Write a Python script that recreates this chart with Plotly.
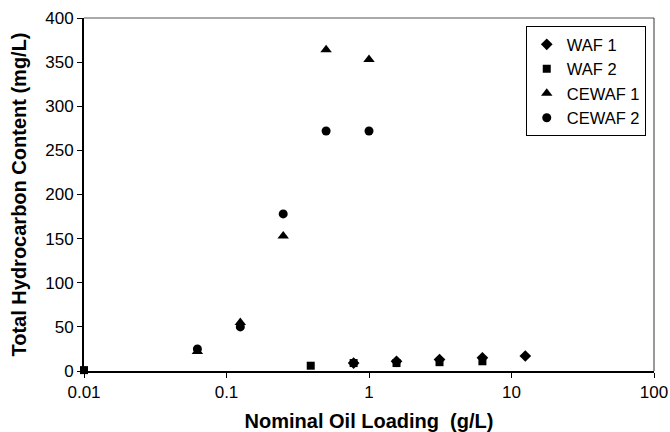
import plotly.graph_objects as go

waf1_x = [0.78, 1.56, 3.125, 6.25, 12.5]
waf1_y = [9, 11, 13, 15, 17]
waf2_x = [0.01, 0.39, 0.78, 1.56, 3.125, 6.25]
waf2_y = [1, 6, 9, 9, 10, 11]
cewaf1_x = [0.0625, 0.125, 0.25, 0.5, 1.0]
cewaf1_y = [22, 55, 153, 364, 353]
cewaf2_x = [0.0625, 0.125, 0.25, 0.5, 1.0]
cewaf2_y = [25, 50, 178, 272, 272]

x_ticks = [0.01, 0.1, 1, 10, 100]
x_tick_labels = ["0.01", "0.1", "1", "10", "100"]
y_ticks = [0, 50, 100, 150, 200, 250, 300, 350, 400]

font = "Liberation Sans, Arial, sans-serif"

fig = go.Figure()
series = [
    ("WAF 1", waf1_x, waf1_y, "diamond", 9),
    ("WAF 2", waf2_x, waf2_y, "square", 8),
    ("CEWAF 1", cewaf1_x, cewaf1_y, "triangle-up", 10),
    ("CEWAF 2", cewaf2_x, cewaf2_y, "circle", 9),
]
for name, xs, ys, sym, sz in series:
    fig.add_trace(go.Scatter(
        x=xs, y=ys, mode="markers", name=name, cliponaxis=False,
        marker=dict(symbol=sym, size=sz, color="black", line=dict(width=0)),
    ))

fig.update_layout(
    width=670, height=432,
    margin=dict(l=84, r=16, t=18, b=61),
    paper_bgcolor="white", plot_bgcolor="white",
    font=dict(family=font, color="black", size=17),
    showlegend=True,
    legend=dict(
        x=0.775, y=0.977, xanchor="left", yanchor="top",
        bgcolor="white", bordercolor="black", borderwidth=1,
        font=dict(size=16.5, family=font),
        itemwidth=30, tracegroupgap=0,
    ),
    xaxis=dict(
        type="log", range=[-2, 2], automargin=False,
        tickvals=x_ticks, ticktext=x_tick_labels,
        ticks="outside", ticklen=5, tickwidth=1, tickcolor="black",
        showline=True, linecolor="black", linewidth=2,
        showgrid=False, zeroline=False,
        tickfont=dict(size=17),
        title=dict(text="<b>Nominal Oil Loading&nbsp;&nbsp;(g/L)</b>", font=dict(size=20), standoff=14),
    ),
    yaxis=dict(
        range=[0, 400], tickvals=y_ticks,
        automargin=False,
        ticks="outside", ticklen=5, tickwidth=1, tickcolor="black",
        showline=True, linecolor="black", linewidth=2,
        showgrid=False, zeroline=False,
        tickfont=dict(size=17),
        title=dict(text="<b>Total Hydrocarbon Content (mg/L)</b>", font=dict(size=20), standoff=13),
    ),
)
# thin frame on top and right
fig.add_shape(type="line", xref="paper", yref="paper", x0=0, x1=1, y0=1, y1=1,
              line=dict(color="#555555", width=1))
fig.add_shape(type="line", xref="paper", yref="paper", x0=1, x1=1, y0=0, y1=1,
              line=dict(color="#333333", width=1))

fig.write_html("out.html", config={"displayModeBar": False},
               post_script="document.body.style.margin='0';")
